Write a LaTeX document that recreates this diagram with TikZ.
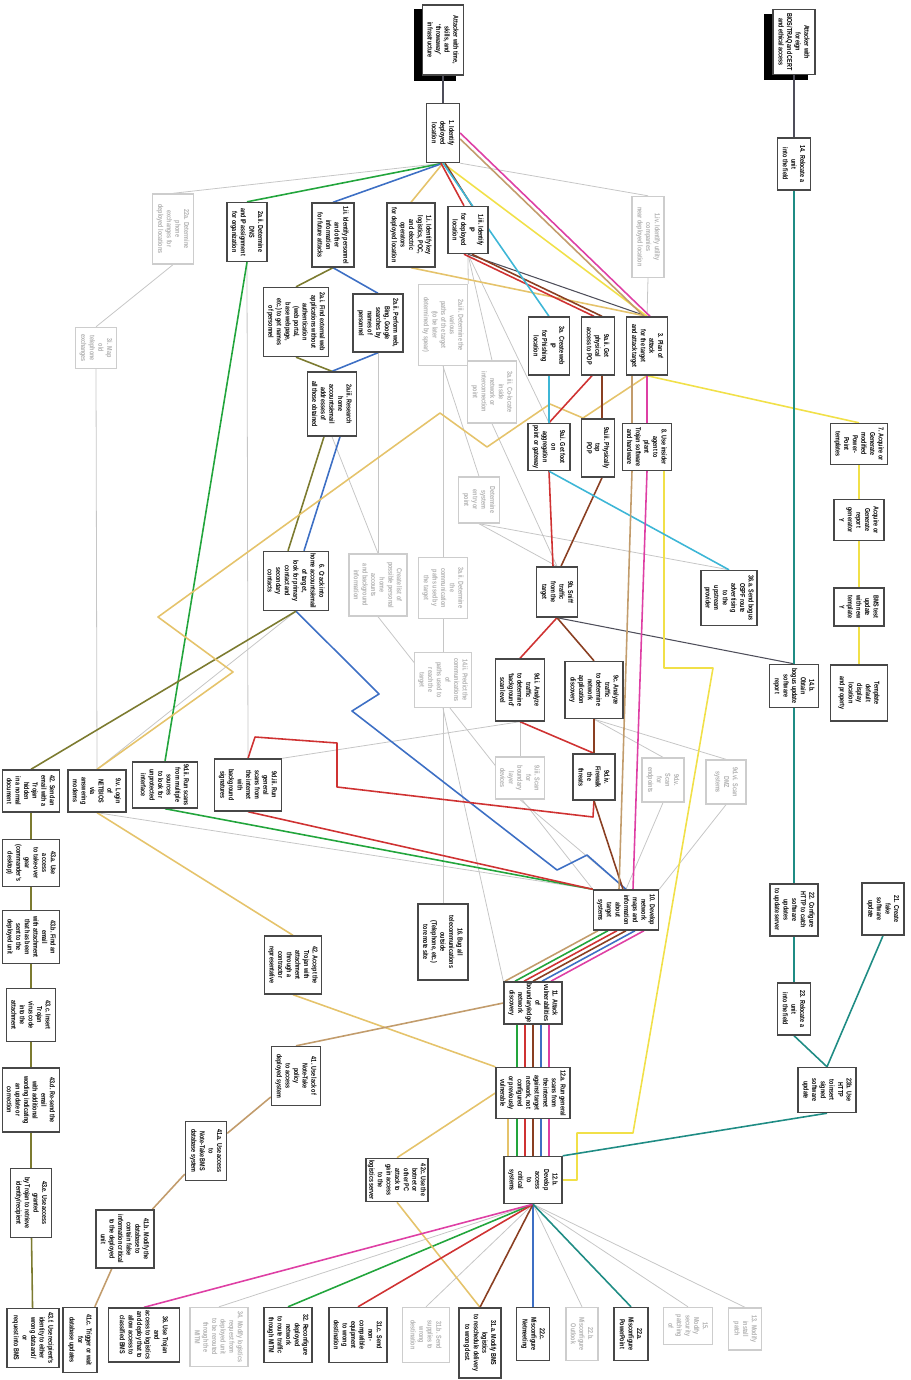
\documentclass[tikz,border=0pt]{standalone}
\usepackage{fontspec}
\setmainfont{Liberation Sans}[FakeStretch=0.75]
\usetikzlibrary{calc}
\pgfdeclarelayer{background}
\pgfsetlayers{background,main}

\begin{document}
\begin{tikzpicture}[x=0.02cm, y=-0.02cm,
    stepBox/.style={draw=borderColour, fill=white, line width=0.8pt, rotate=-90,
        align=center, inner sep=1pt, font=\fontsize{4.1}{4.9}\selectfont\bfseries},
    greyBox/.style={stepBox, draw=greyBorder, text=greyText},
    boxSize/.style 2 args={minimum height={#1*\px}, minimum width={#2*\px}},
    pathLine/.style={line width=0.9pt, line join=round},
    darkLine/.style={draw=darkPath, line width=0.6pt},
    greyLine/.style={draw=greyPath, line width=0.45pt},
    greenLine/.style={pathLine, draw=greenPath},
    blueLine/.style={pathLine, draw=bluePath},
    oliveLine/.style={pathLine, draw=olivePath},
    goldLine/.style={pathLine, draw=goldPath},
    yellowLine/.style={pathLine, draw=yellowPath},
    redLine/.style={pathLine, draw=redPath},
    brownLine/.style={pathLine, draw=brownPath},
    cyanLine/.style={pathLine, draw=cyanPath},
    magentaLine/.style={pathLine, draw=magentaPath},
    tanLine/.style={pathLine, draw=tanPath},
    tealLine/.style={pathLine, draw=tealPath}]
    \definecolor{borderColour}{HTML}{474747}
    \definecolor{greyBorder}{HTML}{CDCDCD}
    \definecolor{greyText}{HTML}{B0B0B0}
    \definecolor{darkPath}{HTML}{4E4E5A}
    \definecolor{greyPath}{HTML}{C6C6C6}
    \definecolor{greenPath}{HTML}{22A53C}
    \definecolor{bluePath}{HTML}{3D6FC4}
    \definecolor{olivePath}{HTML}{7C7B30}
    \definecolor{goldPath}{HTML}{E5C36B}
    \definecolor{yellowPath}{HTML}{F1E048}
    \definecolor{redPath}{HTML}{CF3232}
    \definecolor{brownPath}{HTML}{8A3F22}
    \definecolor{cyanPath}{HTML}{3DB6D6}
    \definecolor{magentaPath}{HTML}{DE3FA4}
    \definecolor{tanPath}{HTML}{C29C6C}
    \definecolor{tealPath}{HTML}{1F8C84}

    \def\px{0.02cm}

    \useasboundingbox (0,0) rectangle (910,1380);

    % Attacker goals
    \node[stepBox, boxSize={41}{70}] (g1) at (443,40) {Attacker with time,\\ skills, and\\ `throwaway'\\ infrastructure};
    \node[stepBox, boxSize={42}{65}] (g2) at (794,42) {Attacker with\\ foreign\\ BIOS/TRAQ and CERT\\ and ethical access};

    % First steps
    \node[stepBox, boxSize={33}{59}] (n1) at (443,133) {1. Identify\\ deployed\\ location};
    \node[stepBox, boxSize={33}{52}] (n14) at (794,164) {14. Relocate a\\ unit\\ into the field};

    % Reconnaissance row
    \node[greyBox, boxSize={41}{70}] (g22a) at (173,229) {22a. Determine\\ phone\\ exchanges for\\ deployed locations};
    \node[stepBox, boxSize={40}{59}] (n2aii) at (247,232) {2a.ii. Determine\\ DNS\\ and IP assignment\\ for organization};
    \node[stepBox, boxSize={42}{64}] (n1ii) at (333,235) {1.ii. Identify personnel\\ and other\\ information\\ for future attacks};
    \node[stepBox, boxSize={48}{64}] (n1i) at (411,235) {1.i. Identify key\\ logistics, POC,\\ and electric\\ operators\\ for deployed location};
    \node[stepBox, boxSize={40}{47}] (n1iii) at (468,230) {1.iii. Identify\\ IP\\ for deployed\\ location};
    \node[greyBox, boxSize={32}{81}] (g1iv) at (648,237) {1.iv. Identify utility\\ companies\\ near deployed location};

    \node[greyBox, boxSize={41}{41}] (g3i) at (96,348) {3i. Map\\ old\\ telephone\\ exchanges};
    \node[stepBox, boxSize={65}{69}] (n2ai) at (296,322) {2a.i. Find external web\\ applications without\\ authentication\\ (web portal,\\ base webpage,\\ etc.) to get names\\ of personnel};
    \node[stepBox, boxSize={50}{58}] (n2aiib) at (378,323) {2a.ii. Perform web,\\ Bing, Google\\ searches by\\ names of\\ personnel};
    \node[greyBox, boxSize={49}{81}] (g2aiii) at (443,325) {2a.iii. Determine the\\ various\\ paths of the target\\ (to be later\\ determined by spear)};
    \node[greyBox, boxSize={49}{62}] (g3aiii) at (492,392) {3a.iii. Co-locate\\ inside\\ network or\\ interconnection\\ point};
    \node[stepBox, boxSize={41}{58}] (n3a) at (549,346) {3a. Create web\\ IP\\ for Phishing\\ location};
    \node[stepBox, boxSize={33}{58}] (n9aii) at (598,346) {9a.ii. Get\\ physical\\ access to POP};
    \node[stepBox, boxSize={41}{58}] (n3) at (647,346) {3. Plan of\\ attack\\ for the target\\ and attack target};

    \node[stepBox, boxSize={49}{64}] (n2aiii) at (332,404) {2a.iii. Research\\ home\\ accounts/email\\ addresses of\\ all those obtained};
    \node[greyBox, boxSize={41}{46}] (gsys) at (479,500) {Determine\\ system\\ entry or\\ point};
    \node[stepBox, boxSize={42}{47}] (n9ai) at (549,447) {9a.i. Get foot\\ on\\ aggregation\\ point or gateway};
    \node[stepBox, boxSize={33}{58}] (n9aiii) at (598,448) {9a.iii. Physically\\ tap\\ POP};
    \node[stepBox, boxSize={49}{47}] (n8) at (647,447) {8. Use insider\\ agent to\\ plant\\ Trojan software\\ and hardware};
    \node[stepBox, boxSize={57}{41}] (n7) at (859,444) {7. Acquire or\\ Generate\\ modified\\ Power-\\ Point\\ templates};
    \node[stepBox, boxSize={50}{41}] (n7b) at (859,520) {Acquire or\\ Generate\\ report\\ generator\\ Y};

    % Middle band
    \node[greyBox, boxSize={58}{62}] (gcreate) at (378,585) {Create list of\\ possible personal\\ home\\ accounts\\ and background\\ information};
    \node[greyBox, boxSize={49}{61}] (g3aii) at (443,588) {3a.ii. Determine\\ the\\ communication\\ paths used by\\ the target};
    \node[stepBox, boxSize={65}{59}] (n6) at (296,581) {6. Crack into\\ home accounts/email\\ of target,\\ look for primary\\ contact and\\ secondary\\ contacts};
    \node[stepBox, boxSize={41}{50}] (n9b) at (557,592) {9b. Sniff\\ traffic\\ from the\\ target};
    \node[stepBox, boxSize={56}{55}] (n36a) at (729,598) {36.a. Send bogus\\ OSPF route\\ advertising\\ to the\\ upstream\\ provider};
    \node[stepBox, boxSize={50}{38}] (n7c) at (859,607) {BMS test\\ update\\ with new\\ template\\ Y};

    \node[greyBox, boxSize={57}{55}] (g14ii) at (443,680) {14.ii. Predict the\\ communications\\ of\\ paths used to\\ reach the\\ target};
    \node[stepBox, boxSize={49}{62}] (n9di) at (520,690) {9d.i. Analyze\\ traffic\\ to determine\\ `background'\\ scan level};
    \node[stepBox, boxSize={58}{57}] (n9c) at (594,690) {9c. Analyze\\ traffic\\ to determine\\ network\\ application\\ discovery};
    \node[stepBox, boxSize={49}{43}] (n14b) at (794,686) {14.b.\\ Obtain\\ bogus update\\ software\\ report};
    \node[stepBox, boxSize={57}{56}] (n7d) at (859,693) {Template\\ default\\ display\\ location\\ and property};

    % Scanning row
    \node[stepBox, boxSize={57}{42}] (n42) at (31,791) {42. Send an\\ email with a\\ Trojan\\ hidden\\ in a normal\\ document};
    \node[stepBox, boxSize={58}{42}] (n9v) at (97,791) {9.v. Login\\ of\\ NETBIOS\\ via\\ answering\\ modems};
    \node[stepBox, boxSize={65}{46}] (n9dii) at (165,785) {9d.ii. Run scans\\ from multiple\\ sources\\ to look for\\ unprotected\\ interface};
    \node[stepBox, boxSize={67}{52}] (n9diii) at (248,785) {9d.iii. Run\\ general\\ scans from\\ the internet\\ with\\ background\\ signatures};
    \node[greyBox, boxSize={49}{42}] (g9iii) at (520,778) {9.iii. Scan\\ for\\ boundary\\ layer\\ devices};
    \node[stepBox, boxSize={42}{46}] (n9dv) at (594,777) {9d.iv.\\ Firewalk\\ the\\ threats};
    \node[greyBox, boxSize={42}{44}] (gend) at (663,780) {9d.v.\\ Scan\\ for\\ endpoints};
    \node[greyBox, boxSize={40}{44}] (gdmz) at (726,782) {9d.vi. Scan\\ DMZ\\ systems};

    % Trojan email chain
    \node[stepBox, boxSize={57}{47}] (n43a) at (31,863) {43.a. Use\\ access\\ to take-over\\ gear\\ (commander's\\ desktop)};
    \node[stepBox, boxSize={57}{53}] (n43b) at (31,937) {43.b. Find an\\ email\\ with attachment\\ that has been\\ sent to the\\ deployed unit};
    \node[stepBox, boxSize={49}{53}] (n43c) at (31,1015) {43.c. Insert\\ Trojan\\ virus code\\ into the\\ attachment};
    \node[stepBox, boxSize={57}{64}] (n43d) at (31,1100) {43.d. Re-send the\\ email\\ with additional\\ wording indicating\\ an update or\\ correction};
    \node[stepBox, boxSize={41}{69}] (n43e) at (31,1203) {43.e. Use access\\ granted\\ by Trojan to retrieve\\ identity/recipient};
    \node[stepBox, boxSize={52}{59}] (n43f) at (33,1338) {43.f. Use recipient's\\ identity to either\\ wrong data and/\\ or\\ request into BMS};

    % Logistics chain
    \node[stepBox, boxSize={57}{58}] (n42b) at (293,965) {42. Accept the\\ Trojan with\\ attachment\\ through a\\ contractor\\ representative};
    \node[stepBox, boxSize={49}{59}] (n41) at (296,1076) {41. Use lack of\\ Note-Take\\ policy\\ to access\\ deployed system};
    \node[stepBox, boxSize={41}{59}] (n41a) at (206,1151) {41.a. Use access\\ to\\ Note-Take BMS\\ database system};
    \node[stepBox, boxSize={58}{58}] (n41b) at (125,1239) {41.b. Modify the\\ database to\\ contain false\\ information critical\\ to the deployed\\ unit};
    \node[stepBox, boxSize={34}{65}] (n41c) at (80,1340) {41.c. Trigger or wait\\ for\\ database updates};

    % Network attack chain
    \node[stepBox, boxSize={50}{76}] (n16) at (443,942) {16. Bug all\\ telecommunications\\ outside\\ (Telephone, etc.)\\ to remote site};
    \node[stepBox, boxSize={65}{40}] (n10) at (626,910) {10. Develop\\ network\\ maps and\\ information\\ about\\ target\\ systems};
    \node[stepBox, boxSize={48}{52}] (n22b) at (794,910) {22. Configure\\ HTTP to catch\\ software\\ updates\\ to update server};
    \node[stepBox, boxSize={42}{52}] (n21) at (883,909) {21. Create\\ fake\\ software\\ update};
    \node[stepBox, boxSize={58}{40}] (n11) at (533,1003) {11. Attack\\ vulnerabilities\\ of\\ boundary/edge\\ network\\ discovery};
    \node[stepBox, boxSize={33}{52}] (n23) at (794,1009) {23. Relocate a\\ unit\\ into the field};
    \node[stepBox, boxSize={74}{51}] (n12a) at (533,1093) {12.a. Run general\\ scans from\\ the internet\\ against target\\ network, not\\ configured\\ or previously\\ vulnerable};
    \node[stepBox, boxSize={58}{45}] (n23b) at (827,1090) {23b. Use\\ HTTP\\ to insert\\ signed\\ software\\ update};
    \node[stepBox, boxSize={58}{47}] (n12b) at (533,1180) {12.b.\\ Develop\\ access\\ to\\ critical\\ systems};
    \node[stepBox, boxSize={53}{38}] (n42c) at (397,1180) {42c. Use the\\ botnet or\\ other PC\\ attack to\\ gain access\\ to the\\ logistics server};

    % Final effects
    \node[stepBox, boxSize={71}{54}] (n36) at (144,1335) {36. Use Trojan\\ and\\ access to logistics\\ and deploy that to\\ allow access to\\ classified BMS};
    \node[greyBox, boxSize={58}{59}] (g34) at (219,1337) {34. Modify logistics\\ request from\\ deployed unit\\ to be rerouted\\ through the\\ MITM};
    \node[stepBox, boxSize={48}{55}] (n32) at (288,1335) {32. Reconfigure\\ deployed\\ network\\ to route traffic\\ through MITM};
    \node[stepBox, boxSize={58}{55}] (n31c) at (358,1335) {31.c. Send\\ non-\\ compatible\\ equipment\\ to wrong\\ destination};
    \node[greyBox, boxSize={47}{55}] (g31b) at (426,1335) {31.b. Send\\ supplies to\\ wrong\\ destination};
    \node[stepBox, boxSize={42}{70}] (n31a) at (480,1343) {31.a. Modify BMS\\ logistics\\ to reschedule delivery\\ to wrong dest.};
    \node[stepBox, boxSize={33}{53}] (n22c) at (533,1334) {22.c.\\ Misconfigure\\ Netmeeting};
    \node[greyBox, boxSize={32}{53}] (g22b) at (582,1334) {22.b.\\ Misconfigure\\ Outlook};
    \node[stepBox, boxSize={34}{53}] (n22a) at (631,1334) {22.a.\\ Misconfigure\\ PowerPoint};
    \node[greyBox, boxSize={49}{37}] (g15) at (688,1326) {15.\\ Modify\\ security\\ patching\\ of};
    \node[greyBox, boxSize={33}{42}] (g13) at (745,1329) {13. Modify\\ install\\ patch};

    % Bends of the routed paths
    \coordinate (goldBendA) at (583,418);
    \coordinate (goldBendB) at (550,404);
    \coordinate (goldBendC) at (487,447);
    \coordinate (goldBendD) at (440,413);
    \coordinate (goldBendE) at (158,617);
    \coordinate (goldBendF) at (233,672);
    \coordinate (blueBendA) at (379,694);
    \coordinate (blueBendB) at (352,711);
    \coordinate (blueBendC) at (557,870);
    \coordinate (blueBendD) at (587,855);
    \coordinate (redBendA) at (593,817);
    \coordinate (redBendB) at (337,787);
    \coordinate (redBendC) at (337,743);
    \coordinate (redBendD) at (255,737);
    \coordinate (yellowBendA) at (664,668);
    \coordinate (yellowBendB) at (713,668);
    \coordinate (yellowBendC) at (633,1133);
    \coordinate (yellowBendD) at (577,1133);
    \coordinate (yellowBendE) at (577,1180);

    \begin{pgfonlayer}{background}
    % Goal shadows
    \fill[black] ($(g1.south west)+(-8,5)$) rectangle ($(g1.north east)+(-8,5)$);
    \fill[black] ($(g2.south west)+(-8,5)$) rectangle ($(g2.north east)+(-8,5)$);

    % Light grey paths
    \draw[greyLine] (n1.east) -- (g22a.west);
    \draw[greyLine] (n1.north east) -- (g1iv.west);
    \draw[greyLine] (g22a.east) -- (g3i.west);
    \draw[greyLine] (g3i.east) -- (n9v.west);
    \draw[greyLine] (g1iv.east) -- (n3.west);
    \draw[greyLine] (n1iii.east) -- (g2aiii.north west);
    \draw[greyLine] (n1iii.east) -- (g3aiii.west);
    \draw[greyLine] (n1iii.east) -- (n9ai.west);
    \draw[greyLine] (g2aiii.east) -- (g3aii.west);
    \draw[greyLine] (g2aiii.east) -- (gsys.west);
    \draw[greyLine] (g3aii.east) -- (g14ii.west);
    \draw[greyLine] (g14ii.east) -- (n16.west);
    \draw[greyLine] (g14ii.east) -- (n11.south west);
    \draw[greyLine] (g3aiii.east) -- (n9b.west);
    \draw[greyLine] (gsys.east) -- (n9b.west);
    \draw[greyLine] (gsys.east) -- (n36a.west);
    \draw[greyLine] (n2aii.east) -- (n9diii.west);
    \draw[greyLine] (n2aiib.east) -- (gcreate.west);
    \draw[greyLine] (n2aiii.east) -- (gcreate.west);
    \draw[greyLine] (gcreate.east) -- (n10.south west);
    \draw[greyLine] (n6.east) -- (n9v.west);
    \draw[greyLine] (n9v.east) -- (n10.south west);
    \draw[greyLine] (n9di.east) -- (g9iii.west);
    \draw[greyLine] (n9di.east) -- (n9diii.north west);
    \draw[greyLine] (n9c.east) -- (gend.west);
    \draw[greyLine] (n9c.east) -- (gdmz.west);
    \draw[greyLine] (g9iii.east) -- (n10.west);
    \draw[greyLine] (gend.east) -- (n10.west);
    \draw[greyLine] (gdmz.east) -- (n10.north west);
    \foreach \target in {g34, g31b, g22b, g15, g13}
        \draw[greyLine] (n12b.east) -- (\target.west);

    % Dark grey paths
    \draw[darkLine] (g1.east) -- (n1.west);
    \draw[darkLine] (g2.east) -- (n14.west);
    \draw[darkLine] (n1iii.east) -- (n3.west);
    \draw[darkLine] (n9b.east) -- (n14b.west);

    % Green path
    \draw[greenLine] (n1.east) -- (n2aii.west);
    \draw[greenLine] (n2aii.east) -- (n9dii.west);
    \draw[greenLine] (n9dii.east) -- (n10.south west);
    \draw[greenLine] (n12b.east) -- (n32.west);

    % Blue path
    \draw[blueLine] (n1.east) -- (n1ii.west);
    \draw[blueLine] (n1ii.east) -- (n2aiib.west);
    \draw[blueLine] (n2aiib.east) -- (n2aiii.west);
    \draw[blueLine] ($(n2aiii.east)+(8,0)$) -- ($(n6.west)+(8,0)$);
    \draw[blueLine] (n6.east) -- (blueBendA) -- (blueBendB) -- (blueBendC) -- (blueBendD) -- (n10.west);
    \draw[blueLine] (n12b.east) -- (n22c.west);

    % Olive path
    \draw[oliveLine] (n1ii.east) -- (n2ai.west);
    \draw[oliveLine] (n2ai.east) -- (n2aiii.west);
    \draw[oliveLine] ($(n2aiii.east)+(-8,0)$) -- ($(n6.west)+(-8,0)$);
    \draw[oliveLine] (n6.east) -- (n42.west);
    \draw[oliveLine] (n42) -- (n43a) -- (n43b) -- (n43c) -- (n43d) -- (n43e) -- (n43f);

    % Gold path
    \draw[goldLine] (n1.east) -- (n1i.west);
    \draw[goldLine] (n1i.east) -- (n3.west);
    \draw[goldLine] (n3.east) -- (goldBendA) -- (goldBendB) -- (goldBendC) -- (goldBendD)
        -- (goldBendE) -- (goldBendF) -- (n9v.west);
    \draw[goldLine] (n9v.east) -- (n42b.west);
    \draw[goldLine] (n42b.east) -- (n12a.south west);
    \draw[goldLine] (n42c.west) -- (n12a.south);
    \draw[goldLine] (n42c.east) -- (n31a.west);

    % Yellow path
    \draw[yellowLine] (n1.east) -- (n3.west);
    \draw[yellowLine] (n3.east) -- (n7.west);
    \draw[yellowLine] (n7) -- (n7b) -- (n7c) -- (n7d);
    \draw[yellowLine] ($(n8.east)+(17,0)$) -- (yellowBendA) -- (yellowBendB) -- (yellowBendC)
        -- (yellowBendD) -- (yellowBendE) -- (n12b.north);

    % Red and brown paths
    \draw[redLine] ($(n1.east)+(-2,0)$) -- ($(n1iii.west)+(-4,0)$);
    \draw[brownLine] ($(n1.east)+(2,0)$) -- ($(n1iii.west)+(4,0)$);
    \draw[redLine] ($(n1iii.east)+(-4,0)$) -- ($(n9aii.west)+(-4,0)$);
    \draw[brownLine] ($(n1iii.east)+(4,0)$) -- ($(n9aii.west)+(4,0)$);
    \draw[redLine] ($(n9aii.east)+(-6,0)$) -- (n9ai.west);
    \draw[brownLine] ($(n9aii.east)+(4,0)$) -- ($(n9aiii.west)+(4,0)$);
    \draw[redLine] (n9ai.east) -- ($(n9b.west)+(-4,0)$);
    \draw[brownLine] ($(n9aiii.east)+(4,0)$) -- ($(n9b.west)+(4,0)$);
    \draw[redLine] (n9b.east) -- (n9di.west);
    \draw[brownLine] (n9b.east) -- (n9c.west);
    \draw[redLine] (n9di.east) -- (n9dv.west);
    \draw[brownLine] (n9c.east) -- (n9dv.west);
    \draw[redLine] (n9dv.east) -- (redBendA) -- (redBendB) -- (redBendC) -- (redBendD) -- (n9diii.west);
    \draw[redLine] (n9diii.east) -- (n10.south west);
    \draw[brownLine] (n9dv.east) -- ($(n10.west)+(-3,0)$);
    \draw[redLine] (n12b.east) -- (n31c.west);
    \draw[brownLine] (n12b.east) -- (n31a.west);

    % Cyan path
    \draw[cyanLine] (n1.east) -- (n3a.west);
    \draw[cyanLine] (n3a.east) -- (n9ai.west);
    \draw[cyanLine] (n9ai.east) -- (n36a.west);

    % Magenta and tan paths
    \draw[magentaLine] (n1.north) -- ($(n3.west)+(3,0)$);
    \draw[tanLine] ($(n1.north)+(0,6)$) -- ($(n3.west)+(-3,0)$);
    \draw[magentaLine] (n3.east) -- (n8.west);
    \draw[tanLine] ($(n3.east)+(-15,0)$) -- ($(n8.west)+(-15,0)$);
    \draw[magentaLine] (n8.east) -- ($(n10.west)+(7,0)$);
    \draw[tanLine] ($(n8.east)+(-15,0)$) -- ($(n10.west)+(-7,0)$);
    \draw[magentaLine] (n12b.east) -- (n36.west);
    \draw[tanLine] (n11.south) -- (n41.west);
    \draw[tanLine] (n41) -- (n41a) -- (n41b) -- (n41c);

    % Bundles between the network steps
    \foreach \c/\o in {tanLine/-28, greenLine/-18, redLine/-9, brownLine/0, blueLine/9, magentaLine/18}
        \draw[\c] ($(n10.east)+(\o,0)$) -- ($(n11.west)+(\o,0)$);
    \foreach \c/\o in {greenLine/-16, redLine/-8, brownLine/0, blueLine/8, magentaLine/16}
        \draw[\c] ($(n11.east)+(\o,0)$) -- ($(n12a.west)+(\o,0)$);
    \foreach \c/\o in {goldLine/-25, greenLine/-16, redLine/-8, brownLine/0, blueLine/8, magentaLine/16}
        \draw[\c] ($(n12a.east)+(\o,0)$) -- ($(n12b.west)+(\o,0)$);

    % Teal path
    \draw[tealLine] (n14) -- (n14b) -- (n22b) -- (n23);
    \draw[tealLine] (n23.east) -- (n23b.west);
    \draw[tealLine] (n21.east) -- (n23b.west);
    \draw[tealLine] (n23b.east) -- (n12b.north west);
    \draw[tealLine] (n12b.east) -- (n22a.west);
    \end{pgfonlayer}
\end{tikzpicture}
\end{document}
